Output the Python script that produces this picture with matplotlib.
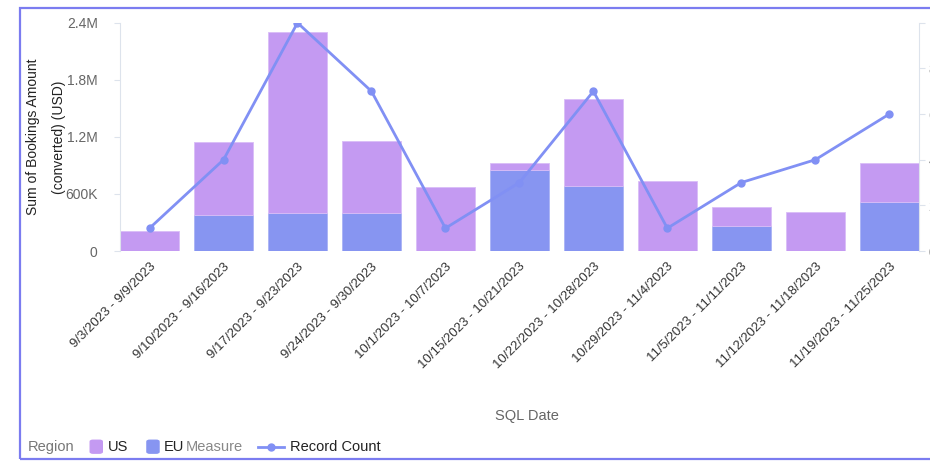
import numpy as np
import matplotlib.pyplot as plt
import matplotlib.patches as mpatches
from matplotlib.lines import Line2D

plt.rcParams['font.family'] = ['Liberation Sans', 'DejaVu Sans']

# data
weeks = ["9/3/2023 - 9/9/2023", "9/10/2023 - 9/16/2023", "9/17/2023 - 9/23/2023",
         "9/24/2023 - 9/30/2023", "10/1/2023 - 10/7/2023", "10/15/2023 - 10/21/2023",
         "10/22/2023 - 10/28/2023", "10/29/2023 - 11/4/2023", "11/5/2023 - 11/11/2023",
         "11/12/2023 - 11/18/2023", "11/19/2023 - 11/25/2023"]
eu = [0, 379e3, 400e3, 400e3, 0, 850e3, 684e3, 0, 263e3, 0, 516e3]
us = [214e3, 768e3, 1905e3, 758e3, 674e3, 76e3, 916e3, 737e3, 200e3, 410e3, 410e3]
record_count = [1, 4, 10, 7, 1, 3, 7, 1, 3, 4, 6]

left_ticks = [0, 600e3, 1.2e6, 1.8e6, 2.4e6]
left_labels = ["0", "600K", "1.2M", "1.8M", "2.4M"]
right_ticks = [0, 2, 4, 6, 8, 10]

c_us = "#c49af2"
c_eu = "#8795f1"
c_line = "#8190f4"
axis_c = "#dde3ec"

fig = plt.figure(figsize=(9.3, 4.61), dpi=100)
ax = fig.add_axes([0.129, 0.4555, 0.859, 0.495])

x = np.arange(len(weeks))
w = 0.8
ax.bar(x, eu, w, color=c_eu, edgecolor="#a9b3f5", linewidth=0.6, zorder=2)
ax.bar(x, us, w, bottom=eu, color=c_us, edgecolor="#d9bdf7", linewidth=0.6, zorder=2)
ax.set_xlim(-w / 2, len(weeks) - 1 + w / 2)
ax.set_ylim(0, 2.4e6)
ax.set_yticks(left_ticks)
ax.set_yticklabels(left_labels)
ax.tick_params(axis="y", length=4, color=axis_c, labelcolor="#666666", labelsize=10, pad=12)
ax.set_xticks(x)
ax.set_xticklabels(weeks, rotation=45, ha="right", rotation_mode="anchor",
                   fontsize=9.5, color="#333333")
ax.tick_params(axis="x", length=0, pad=7)
for s in ["top", "bottom", "right"]:
    ax.spines[s].set_visible(False)
ax.spines["left"].set_color(axis_c)
ax.set_ylabel("Sum of Bookings Amount\n(converted) (USD)", fontsize=10, color="#222222",
              linespacing=2.1)
ax.yaxis.set_label_coords(-0.068, 0.5)

ax2 = ax.twinx()
ax2.plot(x, record_count, color=c_line, linewidth=2, marker="o", markersize=5, zorder=3)
ax2.set_ylim(0, 10)
ax2.set_yticks(right_ticks)
ax2.tick_params(axis="y", length=4, color=axis_c, labelcolor="#666666", labelsize=10, pad=3)
for s in ["top", "bottom", "left"]:
    ax2.spines[s].set_visible(False)
ax2.spines["right"].set_color(axis_c)

fig.text(0.567, 0.098, "SQL Date", fontsize=10.5, color="#666666", ha="center", va="center")

# legend row
ly = 0.031
fig.text(0.030, ly, "Region", fontsize=10.5, color="#777777", va="center")
fig.add_artist(mpatches.FancyBboxPatch((0.097, ly - 0.014), 0.013, 0.028,
                                       boxstyle="round,pad=0,rounding_size=0.003",
                                       transform=fig.transFigure, color=c_us))
fig.text(0.116, ly, "US", fontsize=10.5, color="#222222", va="center")
fig.add_artist(mpatches.FancyBboxPatch((0.158, ly - 0.014), 0.013, 0.028,
                                       boxstyle="round,pad=0,rounding_size=0.003",
                                       transform=fig.transFigure, color=c_eu))
fig.text(0.176, ly, "EU", fontsize=10.5, color="#222222", va="center")
fig.text(0.200, ly, "Measure", fontsize=10.5, color="#888888", va="center")
fig.add_artist(Line2D([0.277, 0.305], [ly, ly], transform=fig.transFigure,
                      color=c_line, linewidth=2))
fig.add_artist(Line2D([0.291], [ly], transform=fig.transFigure, color=c_line,
                      marker="o", markersize=5))
fig.text(0.312, ly, "Record Count", fontsize=10.5, color="#222222", va="center")

# outer frame
fig.add_artist(mpatches.Rectangle((0.0215, 0.0043), 1.0, 0.978, transform=fig.transFigure,
                                  fill=False, edgecolor="#7b7cf0", linewidth=1.6))

fig.savefig("out.png", dpi=100)
